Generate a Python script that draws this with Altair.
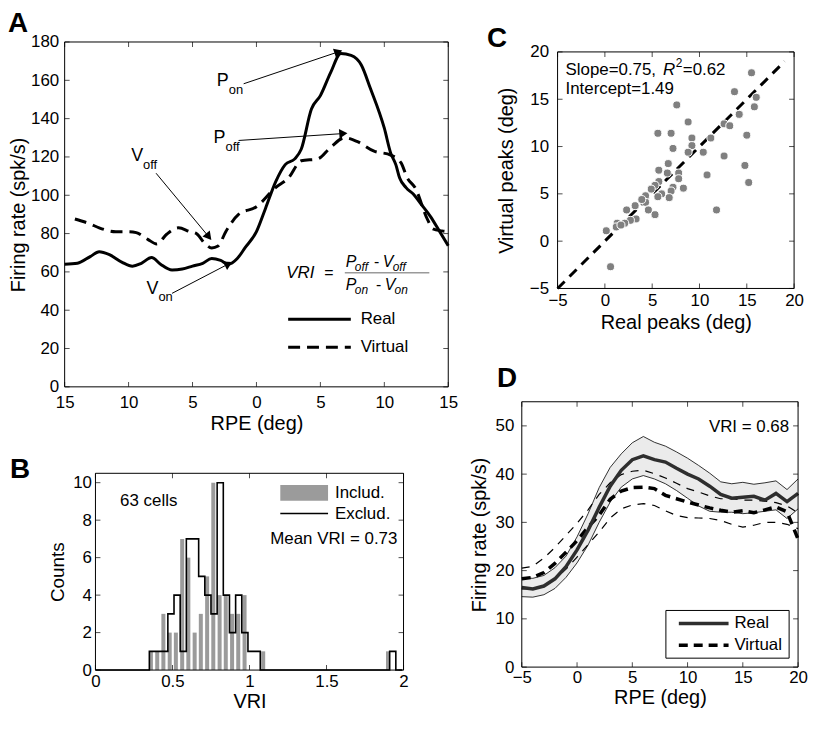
import math
import altair as alt
import pandas as pd

FONT = "Liberation Sans"

# ---------------- Panel A : example cell ----------------
a_real_x = [-15, -14, -13, -12.3, -11.5, -10.5, -9.7, -9.0, -8.2, -7.5, -6.6, -5.8, -5.0, -4.2, -3.5,
            -2.8, -2.2, -1.5, -0.9, 0.0, 0.7, 1.5, 2.25, 3.0, 3.5, 4.3, 5.0, 5.8, 6.6, 7.4, 8.2, 8.9,
            10.0, 10.5, 10.9, 11.2, 11.7, 12.3, 12.8, 13.6, 14.3, 15.0]
a_real_y = [64, 64.5, 68, 70.5, 69, 65, 63, 64.5, 67.5, 64, 61, 61.5, 63, 64.5, 67,
            66, 64, 67, 72.5, 81, 93, 107, 116, 119, 124, 145, 152, 164, 174, 173, 168, 156,
            135, 122, 116, 109, 104, 100.4, 96, 89, 81.4, 73.6]
a_virt_x = [-14.2, -13.0, -12.3, -11.0, -10.0, -9.4, -8.5, -7.8, -7.0, -6.1, -5.2, -4.7, -4.0, -3.5,
            -3.0, -2.4, -1.4, 0.0, 1.5, 2.5, 3.5, 4.8, 5.8, 6.9, 7.9, 9.2, 10.5, 11.3, 11.8, 12.4,
            13.4, 13.8, 14.5, 15.0]
a_virt_y = [87.6, 85, 83, 81, 81, 80.5, 77, 74.6, 79.8, 83, 81, 80, 74.6, 72.5,
            73.5, 81, 90, 94, 104, 109, 118, 119, 125, 130, 128, 123, 121, 117, 109, 104,
            87, 82.5, 81.4, 81]
a_lab_main = ["P", "P", "V", "V"]
a_lab_sub = ["on", "off", "off", "on"]
a_lab_x = [-3.1, -3.35, -9.8, -8.6]
a_lab_y = [159.5, 129.7, 120.3, 51.3]
a_arr_x1 = [-1.0, -1.4, -7.85, -6.6]
a_arr_y1 = [158.2, 128.6, 111.5, 48.8]
a_arr_x2 = [6.6, 7.0, -3.6, -2.0]
a_arr_y2 = [175.3, 132.3, 77.3, 64.8]

# ---------------- Panel B : VRI histogram ----------------
b_incl_center = [0.360, 0.401, 0.441, 0.482, 0.522, 0.563, 0.603, 0.644, 0.684, 0.725, 0.765,
                 0.806, 0.846, 0.887, 0.927, 0.968, 1.089, 1.899]
b_incl_count = [1, 1, 3, 2, 2, 7, 6, 2, 3, 5, 10, 4, 4, 3, 3, 4, 1, 1]
b_excl_edge = [0.0, 0.35, 0.39, 0.43, 0.47, 0.51, 0.55, 0.59, 0.63, 0.67, 0.71, 0.75, 0.79, 0.83,
               0.87, 0.91, 0.95, 0.99, 1.03, 1.07, 1.91, 1.95, 1.99]
b_excl_count = [0, 1, 1, 1, 3, 4, 1, 7, 7, 5, 4, 3, 10, 4, 2, 4, 2, 1, 1, 0, 1, 0, 0]

# ---------------- Panel C : peaks ----------------
c_real = [15.5, 13.7, 16.0, 15.8, 7.6, 14.2, 12.6, 13.2, 8.8, 5.6, 7.0, 15.0, 11.2, 9.2, 7.2, 9.2,
          8.8, 10.4, 12.6, 14.8, 15.2, 10.8, 11.8, 6.7, 5.7, 6.6, 7.8, 7.8, 5.7, 5.3, 7.2, 8.3, 4.9,
          6.0, 7.0, 5.6, 6.8, 4.3, 4.3, 4.6, 5.3, 3.2, 2.3, 3.3, 2.7, 2.1, 1.3, 1.2, 0.15, 0.6, 1.7, 3.9]
c_virt = [17.8, 15.8, 15.2, 14.2, 14.4, 13.4, 12.4, 12.2, 12.6, 11.4, 11.4, 11.2, 10.9, 10.9, 9.8,
          10.1, 9.4, 9.4, 9.0, 8.0, 6.2, 7.0, 3.3, 8.2, 7.5, 7.2, 7.2, 6.6, 6.3, 5.9, 5.7, 5.6, 5.5,
          5.0, 5.3, 4.7, 4.6, 4.8, 4.1, 3.3, 2.8, 3.75, 3.3, 2.35, 2.2, 1.9, 1.9, 1.5, 1.1, -2.7, 1.7, 4.4]
c_identity = [-5, 19]

# ---------------- Panel D : population ----------------
d_x = [-5, -4, -3, -2, -1, 0, 1, 2, 3, 4, 5, 6, 7, 8, 9, 10, 11, 12, 13, 14, 15, 16, 17, 18, 19, 20]
d_real = [16.5, 16.2, 16.8, 18.3, 20.8, 24.3, 28.4, 33.1, 37.5, 40.8, 43.0, 43.8, 43.0, 42.5, 41.2,
          40.0, 39.0, 37.5, 35.8, 35.0, 35.2, 35.4, 34.6, 36.0, 34.3, 36.0]
d_real_hi = [18.5, 18.4, 19.0, 20.6, 23.0, 27.0, 31.8, 37.2, 41.4, 44.2, 46.5, 47.8, 46.6, 45.8, 44.6,
             43.3, 41.8, 40.2, 38.4, 38.0, 38.3, 37.9, 38.2, 38.6, 36.8, 39.0]
d_real_lo = [14.6, 14.5, 15.0, 16.3, 18.6, 21.6, 25.3, 30.0, 34.2, 37.3, 39.0, 39.7, 39.0, 38.0, 36.6,
             35.0, 33.4, 32.3, 32.1, 32.1, 31.8, 32.0, 32.3, 32.6, 30.8, 32.8]
d_virt = [18.3, 18.6, 19.6, 21.5, 23.8, 26.2, 29.0, 31.5, 34.8, 36.5, 37.2, 37.3, 37.0, 35.6, 34.9,
          34.2, 33.6, 33.0, 32.5, 32.1, 32.4, 32.0, 32.6, 33.2, 32.2, 26.5]
d_virt_hi = [20.5, 20.9, 22.6, 24.8, 27.3, 29.8, 32.6, 35.8, 38.2, 39.9, 40.6, 40.8, 40.1, 39.2, 38.1,
             37.0, 36.3, 35.5, 34.9, 34.9, 34.6, 34.6, 34.4, 34.1, 33.4, 32.0]
d_virt_lo = [16.2, 16.3, 16.9, 18.3, 20.3, 22.8, 25.4, 28.0, 30.9, 32.8, 33.6, 33.9, 33.5, 32.4, 31.4,
             31.0, 30.9, 30.8, 30.4, 29.6, 29.0, 29.4, 30.0, 30.0, 29.6, 28.7]

# ---------------- layout (pixels inside the single chart group) ----------------
TOT_W, TOT_H = 806, 708
BOX_A = (57, 443, 32, 379)     # x0, x1, ytop, ybottom
BOX_B = (88, 398, 466, 664)
BOX_C = (553, 791, 42, 280)
BOX_D = (517, 795, 394, 661)


# ---------------- helpers ----------------
def one():
    return pd.DataFrame({"k": [0]})


def panel_axes(box, xdom, ydom, xaxis_kw, yaxis_kw):
    x0, x1, yt, yb = box
    xs = alt.Scale(domain=xdom, range=[x0, x1], nice=False, zero=False)
    ys = alt.Scale(domain=ydom, range=[yb, yt], nice=False, zero=False)
    ax = alt.Axis(orient="bottom", offset=yb - TOT_H, **xaxis_kw)
    ay = alt.Axis(orient="left", offset=-x0, **yaxis_kw)

    def X(f):
        return alt.X(f, scale=xs, axis=ax)

    def Y(f):
        return alt.Y(f, scale=ys, axis=ay)
    return X, Y


def txt(df, X, Y, size=17, align="left", baseline="middle", style="normal", dx=0, dy=0, color="black"):
    return alt.Chart(df).mark_text(font=FONT, fontSize=size, align=align, baseline=baseline,
                                   fontStyle=style, dx=dx, dy=dy, color=color).encode(
        x=X("x:Q"), y=Y("y:Q"), text="t:N")


def frame_and_ticks(X, Y, box, xdom, ydom, xvals, yvals, L=5):
    x0, x1, yt, yb = box
    out = [alt.Chart(pd.DataFrame({"x": [xdom[0]], "x2": [xdom[1]], "y": [ydom[0]], "y2": [ydom[1]]}))
           .mark_rect(fillOpacity=0, stroke="black", strokeWidth=1)
           .encode(x=X("x:Q"), x2="x2:Q", y=Y("y:Q"), y2="y2:Q")]
    tx = pd.DataFrame({"x": xvals})
    ty = pd.DataFrame({"y": yvals})
    for yy in (yt + L / 2, yb - L / 2):
        out.append(alt.Chart(tx).mark_tick(color="black", thickness=1, size=L).encode(
            x=X("x:Q"), y=alt.value(yy)))
    for xx in (x0 + L / 2, x1 - L / 2):
        out.append(alt.Chart(ty).mark_tick(color="black", thickness=1, size=L).encode(
            y=Y("y:Q"), x=alt.value(xx)))
    return out


def letter(ch, x, y):
    return alt.Chart(one()).mark_text(text=ch, font=FONT, fontSize=28, fontWeight="bold", align="left",
                                      baseline="top", color="black").encode(x=alt.value(x), y=alt.value(y))


def arrow_heads(x1s, y1s, x2s, y2s, sx, sy, back=4.0):
    hx, hy, ang = [], [], []
    for x1, y1, x2, y2 in zip(x1s, y1s, x2s, y2s):
        dxp = (x2 - x1) * sx
        dyp = -(y2 - y1) * sy
        L = math.hypot(dxp, dyp)
        ux, uy = dxp / L, dyp / L
        hx.append(x2 - ux * back / sx)
        hy.append(y2 + uy * back / sy)
        ang.append(math.degrees(math.atan2(ux, -uy)) % 360)
    return hx, hy, ang


# ================= Panel A =================
XA, YA = panel_axes(BOX_A, [-15, 15], [0, 180],
                    dict(title="RPE (deg)", values=list(range(-15, 16, 5)),
                         labelExpr="'' + abs(datum.value)", labelPadding=8, titlePadding=3),
                    dict(title="Firing rate (spk/s)", values=list(range(0, 181, 20)),
                         labelPadding=6, titlePadding=2))
A_layers = []
A_layers.append(alt.Chart(pd.DataFrame({"x": a_real_x, "y": a_real_y})).mark_line(
    color="black", strokeWidth=3, interpolate="monotone").encode(x=XA("x:Q"), y=YA("y:Q")))
A_layers.append(alt.Chart(pd.DataFrame({"x": a_virt_x, "y": a_virt_y})).mark_line(
    color="black", strokeWidth=3, strokeDash=[12, 7], interpolate="monotone").encode(
    x=XA("x:Q"), y=YA("y:Q")))
sxA = (BOX_A[1] - BOX_A[0]) / 30.0
syA = (BOX_A[3] - BOX_A[2]) / 180.0
arr = pd.DataFrame({"x": a_arr_x1, "y": a_arr_y1, "x2": a_arr_x2, "y2": a_arr_y2})
A_layers.append(alt.Chart(arr).mark_rule(color="black", strokeWidth=1).encode(
    x=XA("x:Q"), y=YA("y:Q"), x2="x2:Q", y2="y2:Q"))
hx, hy, ang = arrow_heads(a_arr_x1, a_arr_y1, a_arr_x2, a_arr_y2, sxA, syA)
A_layers.append(alt.Chart(pd.DataFrame({"x": hx, "y": hy, "a": ang})).mark_point(
    shape="triangle", filled=True, size=90, color="black", opacity=1).encode(
    x=XA("x:Q"), y=YA("y:Q"), angle=alt.Angle("a:Q", scale=None)))
A_layers.append(txt(pd.DataFrame({"x": a_lab_x, "y": a_lab_y, "t": a_lab_main}), XA, YA, size=18))
A_layers.append(txt(pd.DataFrame({"x": a_lab_x, "y": a_lab_y, "t": a_lab_sub}), XA, YA, size=13, dx=12, dy=9))
# legend
A_layers.append(alt.Chart(pd.DataFrame({"x": [2.48], "x2": [7.38], "y": [35.3]})).mark_rule(
    color="black", strokeWidth=3).encode(x=XA("x:Q"), x2="x2:Q", y=YA("y:Q")))
A_layers.append(alt.Chart(pd.DataFrame({"x": [2.48], "x2": [7.38], "y": [20.7]})).mark_rule(
    color="black", strokeWidth=3, strokeDash=[12, 7]).encode(x=XA("x:Q"), x2="x2:Q", y=YA("y:Q")))
A_layers.append(txt(pd.DataFrame({"x": [8.15, 8.15], "y": [35.3, 20.7], "t": ["Real", "Virtual"]}),
                    XA, YA, size=17))
# formula
A_layers.append(txt(pd.DataFrame({"x": [2.33], "y": [59.6], "t": ["VRI"]}), XA, YA, size=17, style="italic"))
A_layers.append(txt(pd.DataFrame({"x": [5.67, 9.40, 9.56], "y": [59.6, 65.4, 52.9], "t": ["=", "-", "-"]}),
                    XA, YA, size=16, align="center"))
A_layers.append(txt(pd.DataFrame({"x": [6.99, 9.87, 6.99, 10.03], "y": [65.4, 65.4, 52.9, 52.9],
                                  "t": ["P", "V", "P", "V"]}), XA, YA, size=16, style="italic"))
A_layers.append(txt(pd.DataFrame({"x": [7.69, 10.65, 7.69, 10.80], "y": [62.8, 62.8, 50.6, 50.6],
                                  "t": ["off", "off", "on", "on"]}), XA, YA, size=12, style="italic"))
A_layers.append(alt.Chart(pd.DataFrame({"x": [6.91], "x2": [13.52], "y": [59.6]})).mark_rule(
    color="#9a9a9a", strokeWidth=1.5).encode(x=XA("x:Q"), x2="x2:Q", y=YA("y:Q")))
A_layers += frame_and_ticks(XA, YA, BOX_A, [-15, 15], [0, 180], list(range(-15, 16, 5)), list(range(0, 181, 20)))
A_layers.append(letter("A", 0, 0))
A = alt.layer(*A_layers)

# ================= Panel B =================
XB, YB = panel_axes(BOX_B, [0, 2], [0, 10.5],
                    dict(title="VRI", values=[0, 0.5, 1, 1.5, 2], format="~g", labelPadding=4, titlePadding=2),
                    dict(title="Counts", values=[0, 2, 4, 6, 8, 10], labelPadding=4, titlePadding=5,
                         titleFontSize=19))
half = 0.013
bars = pd.DataFrame({"x": [c - half for c in b_incl_center], "x2": [c + half for c in b_incl_center],
                     "y": b_incl_count, "y0": [0] * len(b_incl_count)})
B_layers = []
B_layers.append(alt.Chart(bars).mark_rect(color="#9b9b9b").encode(
    x=XB("x:Q"), x2="x2:Q", y=YB("y:Q"), y2="y0:Q"))
B_layers.append(alt.Chart(pd.DataFrame({"x": b_excl_edge, "y": b_excl_count})).mark_line(
    color="black", strokeWidth=1.6, interpolate="step-after").encode(x=XB("x:Q"), y=YB("y:Q")))
B_layers.append(alt.Chart(pd.DataFrame({"x": [1.2], "x2": [1.51], "y": [9.03], "y2": [9.87]})).mark_rect(
    color="#9b9b9b").encode(x=XB("x:Q"), x2="x2:Q", y=YB("y:Q"), y2="y2:Q"))
B_layers.append(alt.Chart(pd.DataFrame({"x": [1.2], "x2": [1.51], "y": [8.35]})).mark_rule(
    color="black", strokeWidth=1.5).encode(x=XB("x:Q"), x2="x2:Q", y=YB("y:Q")))
B_layers.append(txt(pd.DataFrame({"x": [1.555, 1.555, 0.16], "y": [9.45, 8.35, 9.0],
                                  "t": ["Includ.", "Exclud.", "63 cells"]}), XB, YB, size=17))
B_layers.append(txt(pd.DataFrame({"x": [1.96], "y": [6.98], "t": ["Mean VRI = 0.73"]}), XB, YB,
                    size=17, align="right"))
B_layers += frame_and_ticks(XB, YB, BOX_B, [0, 2], [0, 10.5], [0, 0.5, 1, 1.5, 2], [0, 2, 4, 6, 8, 10])
B_layers.append(letter("B", 2, 449))
B = alt.layer(*B_layers)

# ================= Panel C =================
XC, YC = panel_axes(BOX_C, [-5, 20], [-5, 20],
                    dict(title="Real peaks (deg)", values=[-5, 0, 5, 10, 15, 20], labelPadding=4, titlePadding=4),
                    dict(title="Virtual peaks (deg)", values=[-5, 0, 5, 10, 15, 20], labelPadding=9,
                         titlePadding=13))
C_layers = []
C_layers.append(alt.Chart(pd.DataFrame({"x": c_identity, "y": c_identity})).mark_line(
    color="black", strokeWidth=3, strokeDash=[10, 7]).encode(x=XC("x:Q"), y=YC("y:Q")))
C_layers.append(alt.Chart(pd.DataFrame({"x": c_real, "y": c_virt})).mark_circle(
    size=65, color="#808080", opacity=1, stroke="white", strokeWidth=1).encode(x=XC("x:Q"), y=YC("y:Q")))
C_layers.append(txt(pd.DataFrame({"x": [-4.16, -4.16], "y": [18.1, 16.1],
                                  "t": ["Slope=0.75,", "Intercept=1.49"]}), XC, YC, size=17))
C_layers.append(txt(pd.DataFrame({"x": [-4.16], "y": [18.1], "t": ["R"]}), XC, YC, size=17,
                    style="italic", dx=98))
C_layers.append(txt(pd.DataFrame({"x": [-4.16], "y": [18.1], "t": ["2"]}), XC, YC, size=12, dx=111, dy=-7))
C_layers.append(txt(pd.DataFrame({"x": [-4.16], "y": [18.1], "t": ["=0.62"]}), XC, YC, size=17, dx=118))
C_layers += frame_and_ticks(XC, YC, BOX_C, [-5, 20], [-5, 20], [-5, 0, 5, 10, 15, 20], [-5, 0, 5, 10, 15, 20])
C_layers.append(letter("C", 482, 15))
C = alt.layer(*C_layers)

# ================= Panel D =================
XD, YD = panel_axes(BOX_D, [-5, 20], [0, 55],
                    dict(title="RPE (deg)", values=[-5, 0, 5, 10, 15, 20], labelPadding=3, titlePadding=2),
                    dict(title="Firing rate (spk/s)", values=[0, 10, 20, 30, 40, 50], labelPadding=8,
                         titlePadding=6))
dfD = pd.DataFrame({"x": d_x, "m": d_real, "hi": d_real_hi, "lo": d_real_lo,
                    "v": d_virt, "vhi": d_virt_hi, "vlo": d_virt_lo})
D_layers = []
D_layers.append(alt.Chart(dfD).mark_area(color="#ebebeb", opacity=1).encode(
    x=XD("x:Q"), y=YD("hi:Q"), y2="lo:Q"))
for col in ("hi", "lo"):
    D_layers.append(alt.Chart(dfD).mark_line(color="black", strokeWidth=0.8).encode(
        x=XD("x:Q"), y=YD(col + ":Q")))
for col in ("vhi", "vlo"):
    D_layers.append(alt.Chart(dfD).mark_line(color="black", strokeWidth=1.2, strokeDash=[8, 7]).encode(
        x=XD("x:Q"), y=YD(col + ":Q")))
D_layers.append(alt.Chart(dfD).mark_line(color="black", strokeWidth=3.5, strokeDash=[9, 6]).encode(
    x=XD("x:Q"), y=YD("v:Q")))
D_layers.append(alt.Chart(dfD).mark_line(color="#2e2e2e", strokeWidth=3.5).encode(
    x=XD("x:Q"), y=YD("m:Q")))
D_layers.append(alt.Chart(pd.DataFrame({"x": [8.04], "x2": [19.19], "y": [1.85], "y2": [11.74]})).mark_rect(
    fill="white", stroke="black", strokeWidth=1).encode(x=XD("x:Q"), x2="x2:Q", y=YD("y:Q"), y2="y2:Q"))
D_layers.append(alt.Chart(pd.DataFrame({"x": [9.21], "x2": [13.71], "y": [9.06]})).mark_rule(
    color="#2e2e2e", strokeWidth=3.5).encode(x=XD("x:Q"), x2="x2:Q", y=YD("y:Q")))
D_layers.append(alt.Chart(pd.DataFrame({"x": [9.21], "x2": [13.71], "y": [4.53]})).mark_rule(
    color="black", strokeWidth=3.5, strokeDash=[9, 6]).encode(x=XD("x:Q"), x2="x2:Q", y=YD("y:Q")))
D_layers.append(txt(pd.DataFrame({"x": [14.24, 14.24], "y": [9.06, 4.53], "t": ["Real", "Virtual"]}),
                    XD, YD, size=17))
D_layers.append(txt(pd.DataFrame({"x": [19.19], "y": [49.8], "t": ["VRI = 0.68"]}), XD, YD,
                    size=17, align="right"))
D_layers += frame_and_ticks(XD, YD, BOX_D, [-5, 20], [0, 55], [-5, 0, 5, 10, 15, 20], [0, 10, 20, 30, 40, 50])
D_layers.append(letter("D", 492, 357))
D = alt.layer(*D_layers)

chart = alt.layer(A, B, C, D).resolve_scale(x="independent", y="independent").properties(
    width=TOT_W, height=TOT_H, padding=0).configure_view(strokeOpacity=0).configure_axis(
    labelFont=FONT, titleFont=FONT, labelFontSize=17, titleFontSize=20, labelColor="black",
    titleColor="black", titleFontWeight="normal", domain=False, ticks=False, grid=False,
    labelFlush=False, labelOverlap=False)

chart.save("out.html", embed_options={"renderer": "svg", "actions": False})
